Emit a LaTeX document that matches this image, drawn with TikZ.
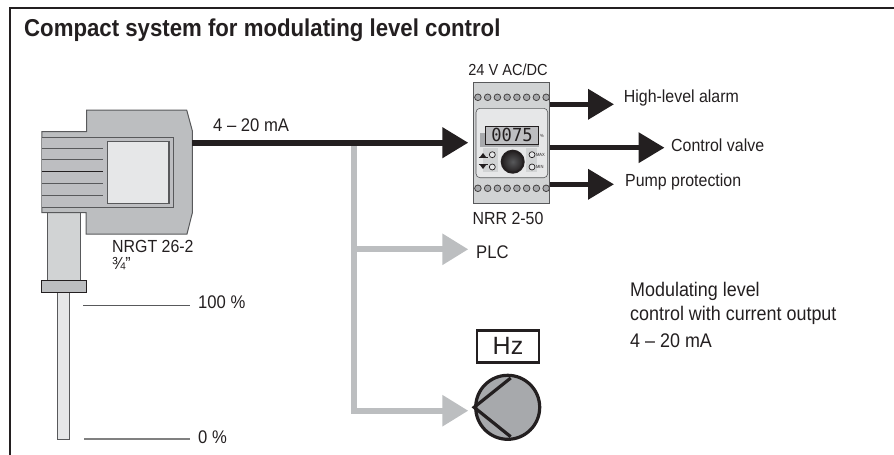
\documentclass[tikz,border=0pt]{standalone}
\usepackage{fontspec}
\setmainfont[FakeStretch=0.91]{Liberation Sans}
\newfontfamily\plainsans{Liberation Sans}
\newfontfamily\digitfont[FakeStretch=0.95]{DejaVu Sans Mono}
\usetikzlibrary{arrows.meta,positioning}
\definecolor{gA}{HTML}{BCBEC0}
\definecolor{gB}{HTML}{A7A9AC}
\definecolor{gC}{HTML}{D1D3D4}
\definecolor{gD}{HTML}{E6E7E8}
\definecolor{ink}{HTML}{231F20}
\definecolor{edge}{HTML}{58595B}
\tikzset{
 lbl/.style={inner sep=0pt,anchor=west,text=ink,font=\fontsize{17.5}{20}\selectfont},
 slbl/.style={lbl,font=\fontsize{18.3}{20}\selectfont},
 nlbl/.style={lbl,font=\fontsize{19.7}{22}\selectfont},
 clbl/.style={lbl,anchor=center},
 blk/.style={line width=5.5pt,draw=ink,-{Triangle[length=26pt,width=29.5pt]}},
 gry/.style={line width=6pt,draw=gA,-{Triangle[length=26pt,width=30pt]}},
 part/.style={draw=edge,line width=1pt},
 term/.style={circle,draw=ink!85,fill=gB,line width=.8pt,minimum size=6.6pt,inner sep=0pt},
 led/.style={circle,draw=ink,fill=gD,line width=.7pt,minimum size=6pt,inner sep=0pt},
 tiny/.style={inner sep=0pt,anchor=west,text=ink,font=\fontsize{4.5}{5}\selectfont},
}
\begin{document}
\begin{tikzpicture}[x=1pt,y=-1pt]
\useasboundingbox (0,0) rectangle (894,455);
\draw[ink,line width=2pt] (10,455) -- (10,7.5) -- (894,7.5);
\node[lbl,font=\fontsize{24.4}{28}\bfseries\selectfont] (title) at (24,30.5) {Compact system for modulating level control};

% sensor
\draw[part,fill=gC] (47.3,212) rectangle (80,281);
\draw[part,fill=gD] (57.7,292) rectangle (69,439.5);
\draw[draw=ink,line width=1pt,fill=gA] (41.3,280.7) rectangle (86.7,292.3);
\draw[draw=edge,line width=1pt,fill=gA] (86.7,131.7) -- (86.7,110) -- (186.7,110) -- (192.3,130.7) -- (192.3,213) -- (187,234) -- (86,234) -- (86,212.7) -- (41.8,212.7) -- (41.8,131.7) -- cycle;
\draw[draw=edge,line width=1pt,fill=gB!75!white] (41.8,137.7) -- (173,137.7) -- (173,207) -- (41.8,207);
\foreach \yy in {148,159,183.7,195}{\draw[edge,line width=1pt] (41.8,\yy) -- (102.7,\yy);}
\draw[ink,line width=.8pt] (41.8,171) -- (102.7,171);
\draw[draw=edge,line width=1.1pt,fill=gD] (107.7,141.3) rectangle (169,203.3);
\coordinate (sensorout) at (192.3,142.7);

% device
\node[draw=edge,fill=gC,line width=1pt,minimum width=76.7pt,minimum height=121pt,inner sep=0pt] (nrr) at (511.6,142.8) {};
\foreach \i in {0,...,7}{
 \node[term] (tt\i) at ({477.9+\i*9.75},97.3) {};
 \node[term] (tb\i) at ({477.9+\i*9.75},188.3) {};
}
\draw[edge,line width=.6pt,fill=gD,rounded corners=4pt] (476,108.3) rectangle (547.7,177.7);
\fill[gB] (480,133) rectangle (539,147);
\fill[gC] (483,148) rectangle (498,172);
\fill[gC] (526,148) rectangle (537,172);
\node[draw=ink,fill=gB!75!white,line width=.9pt,minimum width=52.6pt,minimum height=18pt,inner sep=0pt,text=ink,font=\fontsize{18}{18}\digitfont] (disp) at (512,135) {0075};
\node[tiny] (pct) at (540,135.7) {\%};
\node[circle,draw=ink,line width=2pt,inner color=edge,outer color=ink,minimum size=22pt,inner sep=0pt] (knob) at (512.7,161.7) {};
\node[led] (l1) at (492.3,154.7) {};
\node[led] (l2) at (492.3,167) {};
\node[led] (l3) at (532,154.7) {};
\node[led] (l4) at (532,167) {};
\fill[ink] (480,157) -- (486,157) -- (483,153) -- cycle;
\draw[ink,line width=.9pt] (478.5,157.5) -- (487.5,157.5);
\fill[ink] (480,165) -- (486,165) -- (483,169) -- cycle;
\draw[ink,line width=.9pt] (478.5,164.8) -- (487.5,164.8);
\node[tiny] (max) at (535.8,154.7) {MAX};
\node[tiny] (min) at (535.8,167) {MIN};
\node[clbl,font=\fontsize{16}{20}\selectfont] (supply) at (508,70) {24 V AC/DC};
\node[clbl] (nrrlbl) at (508,218) {NRR 2-50};

% pump
\node[draw=ink,line width=2.4pt,minimum width=62pt,minimum height=32pt,inner sep=0pt,text=ink,font=\fontsize{25}{25}\plainsans] (hz) at (508,346.3) {Hz};
\node[circle,draw=ink,fill=gB,line width=3.2pt,minimum size=64pt,inner sep=0pt] (pump) at (507.7,407.3) {};
\coordinate (pp1) at (510.7,378);
\coordinate (pp2) at (510.7,436.7);
\draw[ink,line width=3.2pt,line join=miter] (pp1) -- (pump.west) -- (pp2);

% gray connectors
\coordinate (tee) at (354.3,142.7);
\coordinate (plctip) at (468.3,249.3);
\coordinate (pumptip) at (468.3,410.7);
\draw[line width=6pt,draw=gA] (tee) -- (354.3,410.7);
\draw[gry] (354.3,249.3) -- (plctip);
\draw[gry] (351.3,410.7) -- (pumptip);

% black connectors
\coordinate (maintip) at (468.3,142.7);
\draw[blk,line width=6pt] (sensorout) -- (maintip);
\coordinate (a1) at (614,104.3);
\coordinate (a2) at (664.5,147.7);
\coordinate (a3) at (614,184.3);
\draw[blk] (nrr.east |- a1) -- (a1);
\draw[blk] (nrr.east |- a2) -- (a2);
\draw[blk] (nrr.east |- a3) -- (a3);

% level marks
\coordinate (m100a) at (83.3,305.7);
\coordinate (m100b) at (190,305.7);
\coordinate (m0a) at (84,439);
\coordinate (m0b) at (190,439);
\draw[edge,line width=1pt] (m100a) -- (m100b);
\draw[gray,line width=1.6pt] (m0a) -- (m0b);

% labels
\node[slbl] (sig) at (213,125) {4 – 20 mA};
\node[lbl] (nrgt) at (112,246) {NRGT 26-2};
\node[lbl] (thr) at (112,264) {¾"};
\node[slbl] (p100) at (198,302.5) {100 \%};
\node[slbl] (p0) at (198,437) {0 \%};
\node[lbl] (alarm) at (623.7,97.5) {High-level alarm};
\node[lbl] (valve) at (671,145) {Control valve};
\node[lbl] (prot) at (625,182) {Pump protection};
\node[slbl] (plc) at (476,252) {PLC};
\node[nlbl] (n1) at (630,291) {Modulating level};
\node[nlbl] (n2) at (630,315) {control with current output};
\node[nlbl] (n3) at (630,341) {4 – 20 mA};
\end{tikzpicture}
\end{document}
